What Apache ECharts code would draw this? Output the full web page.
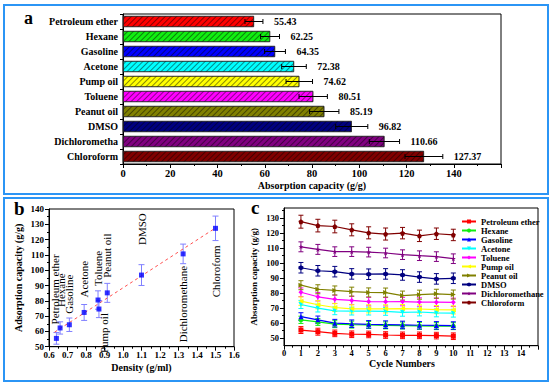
<!DOCTYPE html>
<html><head><meta charset="utf-8">
<script src="https://cdn.jsdelivr.net/npm/echarts@6/dist/echarts.min.js"></script>
<style>html,body{margin:0;padding:0;background:#fff}#c{width:553px;height:386px}</style>
</head><body><div id="c"></div>
<script>
// ---------- Panel a data ----------
const solvents = ['Petroleum ether','Hexane','Gasoline','Acetone','Pump oil','Toluene','Peanut oil','DMSO','Dichlorometha','Chloroform'];
const capacity = [55.43,62.25,64.35,72.38,74.62,80.51,85.19,96.82,110.66,127.37];
const capacityErr = [3.8,4.0,4.4,5.2,5.6,6.0,6.2,6.8,6.4,8.0];
const aTicks = [0,20,40,60,80,100,120,140];

// ---------- Panel b data ----------
const densNames = ['Petroleum ether','Hexane','Gasoline','Acetone','Toluene','Pump oil','Peanut oil','DMSO','Dichloromethane','Chloroform'];
const density = [0.64,0.66,0.71,0.79,0.865,0.87,0.915,1.10,1.325,1.50];
const densCap = [55.43,62.25,64.35,72.38,80.51,74.62,85.19,96.82,110.66,127.37];
const densErr = [3.8,4.0,4.4,5.2,6.0,5.6,6.2,6.8,6.4,8.0];
const fitX = [0.63,1.50];
const fitY = [59.5,127.6];

// ---------- Panel c data ----------
const cycles = [1,2,3,4,5,6,7,8,9,10];
const cNames = ['Petroleum ether','Hexane','Gasoline','Acetone','Toluene','Pump oil','Peanut oil','DMSO','Dichloromethane','Chloroform'];
const cPetroleum = [55.4,54.3,53.2,52.6,52.5,52.1,51.9,51.9,51.7,51.3];
const cHexane    = [62.2,60.8,59.3,59.0,58.8,58.5,58.4,58.2,58.0,58.0];
const cGasoline  = [64.3,62.2,60.0,59.6,59.2,59.0,58.8,58.6,58.5,58.4];
const cAcetone   = [72.4,70.0,68.2,68.0,68.0,67.8,67.2,67.4,66.8,66.6];
const cToluene   = [80.5,77.5,75.8,75.1,74.3,74.2,74.3,74.0,73.9,73.8];
const cPumpOil   = [74.6,72.2,70.4,69.5,69.5,69.5,69.7,69.4,69.0,68.8];
const cPeanutOil = [85.2,82.5,81.7,80.9,80.4,80.3,78.3,78.9,79.5,79.0];
const cDMSO      = [96.8,94.8,94.2,92.7,92.5,92.7,92.0,90.6,89.4,89.8];
const cDichloro  = [110.7,109.0,107.5,107.5,107.2,106.6,105.5,104.8,104.2,102.8];
const cChloroform= [127.4,124.8,124.2,122.0,120.0,119.2,119.8,118.0,119.4,118.6];
const ePetroleum = [2.3,2.3,2.2,2.2,2.2,2.2,2.2,2.2,2.2,2.2];
const eHexane    = [2.4,2.3,2.3,2.3,2.3,2.3,2.3,2.3,2.3,2.3];
const eGasoline  = [2.6,2.5,2.5,2.5,2.5,2.5,2.5,2.5,2.5,2.5];
const eAcetone   = [2.7,2.6,2.6,2.6,2.6,2.6,2.6,2.6,2.6,2.6];
const eToluene   = [2.9,2.8,2.8,2.8,2.8,2.8,2.8,2.8,2.8,2.8];
const ePumpOil   = [2.8,2.7,2.7,2.7,2.7,2.7,2.7,2.7,2.7,2.7];
const ePeanutOil = [3.0,3.0,3.0,3.0,3.0,3.0,3.0,3.0,3.0,3.0];
const eDMSO      = [3.5,3.5,3.5,3.5,3.5,3.5,3.5,3.5,3.5,3.5];
const eDichloro  = [3.3,3.3,3.2,3.2,3.2,3.2,3.2,3.2,3.2,3.2];
const eChloroform= [4.3,4.2,4.2,4.0,4.0,4.0,3.8,3.8,3.8,3.8];
const cTicksMajor = [50,60,70,80,90,100,110,120,130];
const cTicksMinor = [55,65,75,85,95,105,115,125,135];

// ---------- styles ----------
const SERIF = '"Liberation Serif","Times New Roman",serif';
const colors = ['#ff0000','#11ee11','#0000ff','#00ffff','#ff00ff','#ffff00','#808000','#000080','#800080','#800000'];
const barColors = ['#ff0000','#11ee11','#0000ff','#00ffff','#ffff00','#ff00ff','#808000','#000080','#800080','#800000'];
const cSymbols = ['rect','circle','triangle','path://M0,0L10,0L5,9Z','diamond','path://M9,0L9,10L0,5Z','path://M0,0L0,10L9,5Z',
  'path://M5,0L9.33,2.5L9.33,7.5L5,10L0.67,7.5L0.67,2.5Z',
  'path://M5,0L6.2,3.6L10,3.6L6.9,5.8L8.1,9.5L5,7.2L1.9,9.5L3.1,5.8L0,3.6L3.8,3.6Z',
  'path://M5,0L10,3.6L8.1,9.5L1.9,9.5L0,3.6Z'];
// label placement for panel b (side, dx px, gap px)
const bLabelSide = ['up','up','up','up','up','down','up','up','down','down'];
const bLabelDx   = [-1,1,0,0,0,5,0,0,0,0];
const bLabelGap  = [14,21,11,15,14,4,15,30,12,17];

const cSeriesVals = [cPetroleum,cHexane,cGasoline,cAcetone,cToluene,cPumpOil,cPeanutOil,cDMSO,cDichloro,cChloroform];
const cSeriesErr  = [ePetroleum,eHexane,eGasoline,eAcetone,eToluene,ePumpOil,ePeanutOil,eDMSO,eDichloro,eChloroform];

const black = '#000';
function axisCommon(extra){
  return Object.assign({
    axisLine:{show:true,onZero:false,lineStyle:{color:black,width:1}},
    axisTick:{show:true,inside:false,length:4,lineStyle:{color:black,width:1}},
    minorTick:{show:true,splitNumber:2,length:2,lineStyle:{color:black,width:1}},
    splitLine:{show:false}, minorSplitLine:{show:false},
    axisLabel:{color:black,fontFamily:SERIF,fontWeight:'bold',fontSize:9,margin:4},
    nameLocation:'middle',
    nameTextStyle:{color:black,fontFamily:SERIF,fontWeight:'bold',fontSize:10}
  }, extra);
}

const chart = echarts.init(document.getElementById('c'), null, {renderer:'svg'});

const hatch = {symbol:'rect',symbolSize:1,dashArrayX:[1,0],dashArrayY:[1,2.4],rotation:-Math.PI/4,color:'rgba(0,0,0,0.45)'};

const series = [];
// a bars
series.push({
  type:'bar', xAxisIndex:0, yAxisIndex:0, barWidth:11,
  data: capacity.map((v,i)=>({value:v,itemStyle:{color:barColors[i],borderColor:'#222',borderWidth:0.6,decal:hatch}})),
  silent:true, animation:false
});
// a error bars + value labels
series.push({
  type:'custom', xAxisIndex:0, yAxisIndex:0, animation:false, silent:true, z:5,
  data: capacity.map((v,i)=>[v,i,capacityErr[i]]),
  encode:{x:0,y:1},
  renderItem:function(params,api){
    const v=api.value(0), i=api.value(1), e=api.value(2);
    const p1=api.coord([v-e,i]), p2=api.coord([v+e,i]);
    const y=p1[1];
    const st={stroke:black,lineWidth:1};
    return {type:'group',children:[
      {type:'line',shape:{x1:p1[0],y1:y,x2:p2[0],y2:y},style:st},
      {type:'line',shape:{x1:p1[0],y1:y-2.5,x2:p1[0],y2:y+2.5},style:st},
      {type:'line',shape:{x1:p2[0],y1:y-2.5,x2:p2[0],y2:y+2.5},style:st},
      {type:'text',x:p2[0]+11,y:y,style:{text:capacity[params.dataIndex].toFixed(2),fontFamily:SERIF,fontWeight:'bold',fontSize:10,fill:black,align:'left',verticalAlign:'middle'}}
    ]};
  }
});
// b fit line
series.push({type:'line',xAxisIndex:1,yAxisIndex:1,data:fitX.map((x,i)=>[x,fitY[i]]),symbol:'none',
  lineStyle:{color:'#ff5050',width:1,type:[3,3]},animation:false,silent:true});
// b error bars + labels
series.push({
  type:'custom', xAxisIndex:1, yAxisIndex:1, animation:false, silent:true, z:3,
  data: density.map((d,i)=>[d,densCap[i],densErr[i]]),
  encode:{x:0,y:1},
  renderItem:function(params,api){
    const x=api.value(0), y=api.value(1), e=api.value(2), k=params.dataIndex;
    const p=api.coord([x,y]), p1=api.coord([x,y-e]), p2=api.coord([x,y+e]);
    const st={stroke:'#8080ff',lineWidth:1};
    const up = bLabelSide[k]==='up';
    const ty = up ? p[1]-bLabelGap[k] : p[1]+bLabelGap[k];
    return {type:'group',children:[
      {type:'line',shape:{x1:p1[0],y1:p1[1],x2:p2[0],y2:p2[1]},style:st},
      {type:'line',shape:{x1:p1[0]-3,y1:p1[1],x2:p1[0]+3,y2:p1[1]},style:st},
      {type:'line',shape:{x1:p2[0]-3,y1:p2[1],x2:p2[0]+3,y2:p2[1]},style:st},
      {type:'text',x:p[0]+bLabelDx[k],y:ty,rotation:Math.PI/2,style:{text:densNames[k],fontFamily:SERIF,fontSize:11,fill:black,align:up?'left':'right',verticalAlign:'middle'}}
    ]};
  }
});
// b points
series.push({type:'scatter',xAxisIndex:1,yAxisIndex:1,data:density.map((d,i)=>[d,densCap[i]]),symbol:'rect',symbolSize:5,
  itemStyle:{color:'#0000ff'},z:6,animation:false,silent:true});
// c error bars
const cErrData=[];
cSeriesVals.forEach((arr,s)=>arr.forEach((v,j)=>cErrData.push([cycles[j],v,cSeriesErr[s][j],s])));
series.push({
  type:'custom', xAxisIndex:2, yAxisIndex:2, animation:false, silent:true, z:3,
  data:cErrData, encode:{x:0,y:1},
  renderItem:function(params,api){
    const x=api.value(0), y=api.value(1), e=api.value(2), s=api.value(3);
    const p1=api.coord([x,y-e]), p2=api.coord([x,y+e]);
    const st={stroke:colors[s],lineWidth:1};
    return {type:'group',children:[
      {type:'line',shape:{x1:p1[0],y1:p1[1],x2:p2[0],y2:p2[1]},style:st},
      {type:'line',shape:{x1:p1[0]-2.5,y1:p1[1],x2:p1[0]+2.5,y2:p1[1]},style:st},
      {type:'line',shape:{x1:p2[0]-2.5,y1:p2[1],x2:p2[0]+2.5,y2:p2[1]},style:st}
    ]};
  }
});
// c lines
cNames.forEach((n,s)=>{
  series.push({type:'line',name:n,xAxisIndex:2,yAxisIndex:2,data:cycles.map((c,j)=>[c,cSeriesVals[s][j]]),
    symbol:cSymbols[s],symbolSize:5,showAllSymbol:true,
    lineStyle:{color:colors[s],width:1.2},itemStyle:{color:colors[s]},z:5,animation:false,silent:true});
});

const option = {
  backgroundColor:'#fff',
  animation:false,
  grid:[
    {left:123,top:14,width:378,height:150,show:true,borderColor:black,borderWidth:1,backgroundColor:'transparent'},
    {left:49,top:209,width:185,height:137.7,show:true,borderColor:black,borderWidth:1,backgroundColor:'transparent'},
    {left:284,top:208,width:254,height:137.7,show:true,borderColor:black,borderWidth:1,backgroundColor:'transparent'}
  ],
  xAxis:[
    axisCommon({gridIndex:0,type:'value',min:0,max:160,interval:20,
      axisLabel:{color:black,fontFamily:SERIF,fontWeight:'bold',fontSize:10.5,margin:4,formatter:v=>aTicks.indexOf(v)>=0?String(v):''},
      name:'Absorption capacity (g/g)',nameGap:16}),
    axisCommon({gridIndex:1,type:'value',min:0.6,max:1.6,interval:0.1,
      axisLabel:{color:black,fontFamily:SERIF,fontWeight:'bold',fontSize:9,margin:4,formatter:v=>v.toFixed(1)},
      name:'Density (g/ml)',nameGap:16}),
    axisCommon({gridIndex:2,type:'value',min:0,max:15,interval:1,
      axisLabel:{color:black,fontFamily:SERIF,fontWeight:'bold',fontSize:8.5,margin:3,formatter:v=>v<15?String(v):''},
      name:'Cycle Numbers',nameGap:13,nameTextStyle:{color:black,fontFamily:SERIF,fontWeight:'bold',fontSize:10,padding:[0,18,0,0]}})
  ],
  yAxis:[
    {gridIndex:0,type:'category',data:solvents,inverse:true,
      axisLine:{show:true,lineStyle:{color:black,width:1}},
      axisTick:{show:true,length:3,lineStyle:{color:black}},
      axisLabel:{color:black,fontFamily:SERIF,fontWeight:'bold',fontSize:10,margin:5},
      splitLine:{show:false}},
    axisCommon({gridIndex:1,type:'value',min:50,max:140,interval:10,
      axisLabel:{color:black,fontFamily:SERIF,fontWeight:'bold',fontSize:9,margin:5},
      name:'Adsorption capacity (g/g)',nameGap:26,nameRotate:90}),
    axisCommon({gridIndex:2,type:'value',min:45,max:136.5,
      axisLabel:{color:black,fontFamily:SERIF,fontWeight:'bold',fontSize:8.5,margin:5,customValues:cTicksMajor},
      axisTick:{show:true,inside:false,length:4,lineStyle:{color:black,width:1},customValues:cTicksMajor},
      minorTick:{show:false},
      name:'Absorption capacity (g/g)',nameGap:26,nameRotate:90,
      nameTextStyle:{color:black,fontFamily:SERIF,fontWeight:'bold',fontSize:9}}),
    {gridIndex:2,type:'value',min:45,max:136.5,position:'left',offset:0,
      axisLine:{show:false},axisLabel:{show:false},splitLine:{show:false},
      axisTick:{show:true,inside:false,length:2,lineStyle:{color:black,width:1},customValues:cTicksMinor}}
  ],
  legend:{
    show:true, orient:'vertical', left:461, top:217, itemWidth:14, itemHeight:5, itemGap:0, padding:0,
    data:cNames, selectedMode:false,
    textStyle:{color:black,fontFamily:SERIF,fontWeight:'bold',fontSize:8.5,lineHeight:9}
  },
  graphic:[
    {type:'rect',shape:{x:4,y:5,width:544,height:189},style:{fill:'none',stroke:'#2b95f5',lineWidth:2},silent:true},
    {type:'rect',shape:{x:4,y:198,width:544,height:183},style:{fill:'none',stroke:'#2b95f5',lineWidth:2},silent:true},
    {type:'text',left:24,top:9,style:{text:'a',fontFamily:SERIF,fontWeight:'bold',fontSize:18,fill:black}},
    {type:'text',left:14,top:199,style:{text:'b',fontFamily:SERIF,fontWeight:'bold',fontSize:19,fill:black}},
    {type:'text',left:251,top:198,style:{text:'c',fontFamily:SERIF,fontWeight:'bold',fontSize:19,fill:black}}
  ],
  series:series
};
chart.setOption(option);
</script>
</body></html>
